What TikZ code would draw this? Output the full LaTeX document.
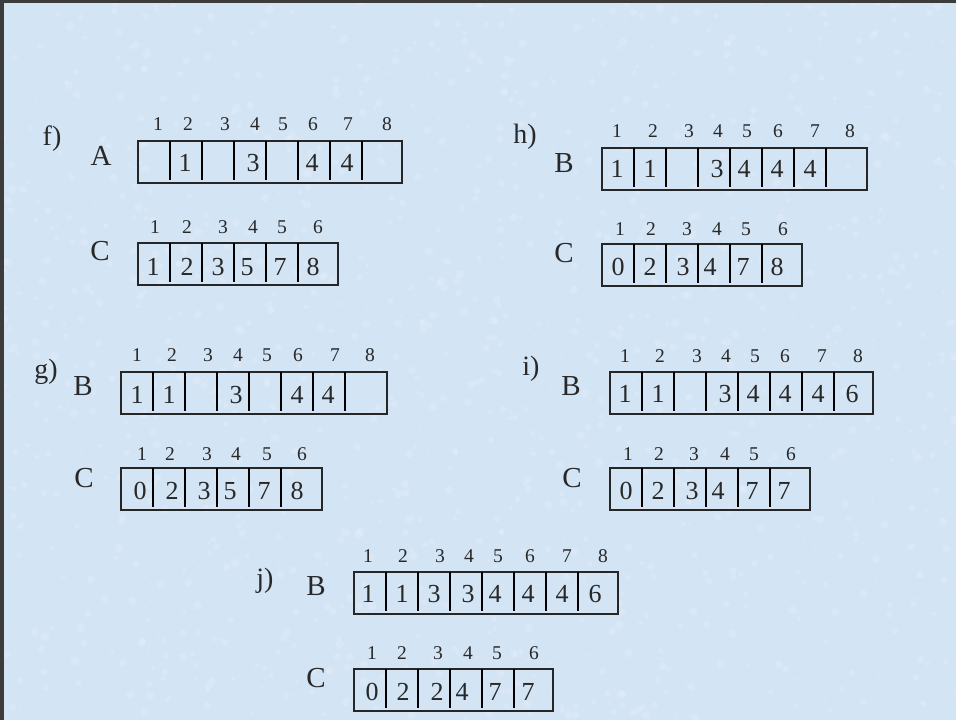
\documentclass[tikz,border=0pt]{standalone}
\usepackage{fontspec}
\setmainfont{Liberation Serif}
\definecolor{bgblue}{RGB}{211,228,245}
\definecolor{txt}{RGB}{40,40,40}
\definecolor{frame}{RGB}{60,60,60}
\tikzset{
  boxst/.style={draw=black!85, line width=1.3pt, anchor=north west, inner sep=0pt, outer sep=0pt, minimum height=42pt},
  divst/.style={draw=black, line width=2.3pt},
  idx/.style={anchor=base, inner sep=0pt, text=txt, font=\fontsize{19.5}{21}\selectfont},
  val/.style={anchor=base, inner sep=0pt, text=txt, font=\fontsize{26}{28}\selectfont},
  nm/.style={anchor=base, inner sep=0pt, text=txt, font=\fontsize{29}{31}\selectfont},
  lab/.style={anchor=base, inner sep=0pt, text=txt, font=\fontsize{28}{30}\selectfont},
  speck/.style={fill=white, opacity=0.14},
}
% #1 name, #2 x left, #3 y top, #4 width, #5 number of dividers
\newcommand\myarr[5]{%
  \node[boxst, minimum width=#4pt] (#1) at (#2,#3) {};
  \foreach \k in {1,...,#5}
    \draw[divst] ([xshift={\k*32pt}]#1.north west) -- ++(0,39);
}
\begin{document}
\begin{tikzpicture}[x=1pt,y=-1pt]
\useasboundingbox (0,0) rectangle (956,720);
\fill[bgblue] (0,0) rectangle (956,720);
\pgfmathsetseed{7}
\foreach \i in {1,...,1400}{
  \pgfmathsetmacro\px{rnd*956}
  \pgfmathsetmacro\py{rnd*720}
  \pgfmathsetmacro\pr{1+rnd*3.5}
  \fill[speck] (\px,\py) circle (\pr);
}
\fill[frame] (0,0) rectangle (956,3);
\fill[frame] (0,0) rectangle (4,720);

% ---------- f) ----------
\node[lab] (labf) at (52,145) {f)};
\node[nm] (fA) at (101,165) {A};
\myarr{fAbox}{138}{141}{264}{7}
\foreach \x/\t in {158/1,188/2,225/3,255/4,283/5,313/6,348/7,387/8}
  \node[idx] at (\x,130) {\t};
\foreach \x/\t in {185/1,253/3,312/4,347/4}
  \node[val] at (\x,171) {\t};
\node[nm] (fC) at (100,260) {C};
\myarr{fCbox}{138}{243}{200}{5}
\foreach \x/\t in {155/1,187/2,223/3,253/4,282/5,318/6}
  \node[idx] at (\x,233) {\t};
\foreach \x/\t in {153/1,187/2,218/3,247/5,280/7,313/8}
  \node[val] at (\x,275) {\t};

% ---------- h) ----------
\node[lab] (labh) at (525,143) {h)};
\node[nm] (hB) at (564,172) {B};
\myarr{hBbox}{602}{148}{265}{7}
\foreach \x/\t in {617/1,653/2,689/3,718/4,747/5,778/6,815/7,850/8}
  \node[idx] at (\x,137) {\t};
\foreach \x/\t in {617/1,650/1,717/3,744/4,777/4,810/4}
  \node[val] at (\x,177) {\t};
\node[nm] (hC) at (564,262) {C};
\myarr{hCbox}{602}{244}{200}{5}
\foreach \x/\t in {620/1,651/2,687/3,717/4,746/5,783/6}
  \node[idx] at (\x,235) {\t};
\foreach \x/\t in {618/0,650/2,683/3,710/4,743/7,777/8}
  \node[val] at (\x,275) {\t};

% ---------- g) ----------
\node[lab] (labg) at (46,378) {g)};
\node[nm] (gB) at (83,395) {B};
\myarr{gBbox}{121}{372}{266}{7}
\foreach \x/\t in {137/1,172/2,208/3,238/4,267/5,298/6,335/7,370/8}
  \node[idx] at (\x,361) {\t};
\foreach \x/\t in {137/1,169/1,236/3,297/4,328/4}
  \node[val] at (\x,403) {\t};
\node[nm] (gC) at (84,487) {C};
\myarr{gCbox}{121}{468}{201}{5}
\foreach \x/\t in {142/1,170/2,207/3,236/4,267/5,302/6}
  \node[idx] at (\x,460) {\t};
\foreach \x/\t in {140/0,172/2,204/3,230/5,264/7,297/8}
  \node[val] at (\x,499) {\t};

% ---------- i) ----------
\node[lab] (labi) at (531,375) {i)};
\node[nm] (iB) at (571,395) {B};
\myarr{iBbox}{610}{372}{263}{7}
\foreach \x/\t in {625/1,660/2,697/3,726/4,755/5,785/6,822/7,858/8}
  \node[idx] at (\x,362) {\t};
\foreach \x/\t in {625/1,658/1,725/3,753/4,785/4,818/4,852/6}
  \node[val] at (\x,402) {\t};
\node[nm] (iC) at (572,487) {C};
\myarr{iCbox}{610}{468}{200}{5}
\foreach \x/\t in {628/1,659/2,694/3,725/4,754/5,791/6}
  \node[idx] at (\x,460) {\t};
\foreach \x/\t in {626/0,658/2,692/3,718/4,752/7,784/7}
  \node[val] at (\x,499) {\t};

% ---------- j) ----------
\node[lab] (labj) at (265,587) {j)};
\node[nm] (jB) at (316,595) {B};
\myarr{jBbox}{354}{572}{264}{7}
\foreach \x/\t in {368/1,403/2,440/3,469/4,498/5,530/6,567/7,603/8}
  \node[idx] at (\x,562) {\t};
\foreach \x/\t in {368/1,402/1,434/3,468/3,495/4,528/4,562/4,595/6}
  \node[val] at (\x,602) {\t};
\node[nm] (jC) at (316,687) {C};
\myarr{jCbox}{354}{669}{199}{5}
\foreach \x/\t in {372/1,402/2,438/3,468/4,497/5,534/6}
  \node[idx] at (\x,659) {\t};
\foreach \x/\t in {372/0,403/2,437/2,462/4,495/7,528/7}
  \node[val] at (\x,700) {\t};
\end{tikzpicture}
\end{document}
